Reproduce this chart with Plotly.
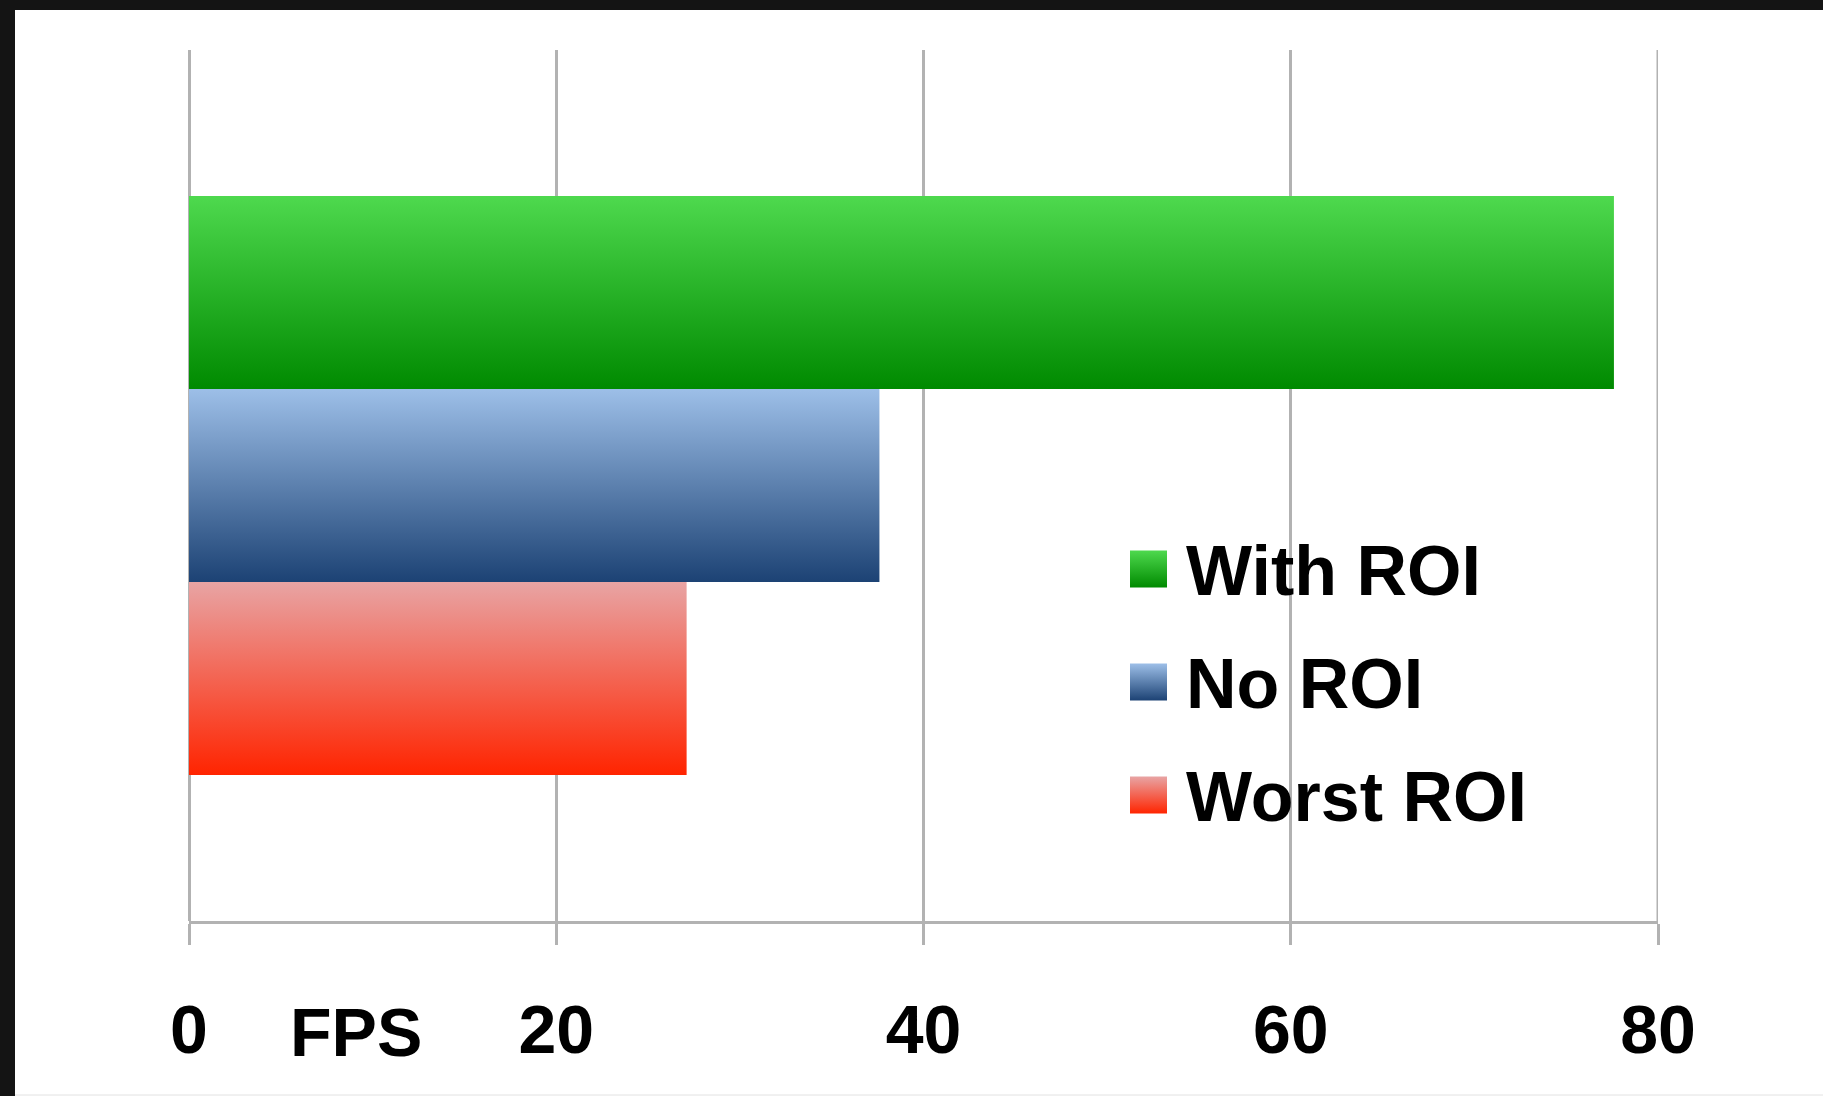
import plotly.graph_objects as go

# ---- data ----
series_names = ["With ROI", "No ROI", "Worst ROI"]
fps_values = [77.6, 37.6, 27.1]
tick_values = [0, 20, 40, 60, 80]
tick_labels = ["0", "20", "40", "60", "80"]
axis_label = "FPS"

# ---- styles ----
top_colors = ["rgb(78,217,78)", "rgb(157,191,232)", "rgb(232,164,164)"]
bottom_colors = ["rgb(0,138,0)", "rgb(28,66,116)", "rgb(255,36,0)"]
grid_color = "#b2b2b2"
FONT = "Liberation Sans"

W, H = 1823, 1096
L, R, T, B = 189, 1658, 50, 921  # plot-area pixel box


def pxx(p):
    return (p - L) / (R - L)


def pxy(p):
    return (B - p) / (B - T)


group_width = 0.665
bar_h = group_width / len(series_names)

fig = go.Figure()

for i, (name, v) in enumerate(zip(series_names, fps_values)):
    c = (len(series_names) - 1) / 2 * bar_h - i * bar_h
    y0, y1 = c - bar_h / 2, c + bar_h / 2
    fig.add_trace(go.Scatter(
        x=[0, v, v, 0, 0],
        y=[y0, y0, y1, y1, y0],
        mode="lines",
        line=dict(width=0),
        fill="toself",
        fillgradient=dict(type="vertical",
                          colorscale=[[0, bottom_colors[i]], [1, top_colors[i]]]),
        name=name,
        showlegend=False,
        hoverinfo="x+name",
    ))

# custom legend: markers on an overlay pixel-axis
leg_rows_y = [571, 684, 797]
leg_sq_x = 1148.5
fig.add_trace(go.Scatter(
    x=[leg_sq_x] * 3, y=[y - 2 for y in leg_rows_y],
    xaxis="x2", yaxis="y2",
    mode="markers",
    marker=dict(symbol="square", size=37, color=top_colors,
                gradient=dict(type="vertical", color=bottom_colors),
                line=dict(width=0)),
    showlegend=False, hoverinfo="skip",
))

annotations = []
for name, yy in zip(series_names, leg_rows_y):
    annotations.append(dict(
        x=pxx(1184), y=pxy(yy), xref="paper", yref="paper",
        text=name, showarrow=False, xanchor="left", yanchor="middle",
        font=dict(family=FONT, size=70, color="black", weight="bold"),
    ))

annotations.append(dict(
    x=9.1, y=pxy(1032), xref="x", yref="paper",
    text=axis_label, showarrow=False, xanchor="center", yanchor="middle",
    font=dict(family=FONT, size=68, color="black", weight="bold"),
))

shapes = [
    # gridline at the last tick (plotly skips gridlines on the range edge)
    dict(type="line", xref="x", yref="paper",
         x0=tick_values[-1], x1=tick_values[-1], y0=0, y1=1,
         line=dict(color=grid_color, width=3), layer="below"),
    # white legend backdrop hiding the 60 gridline
    dict(type="rect", xref="paper", yref="paper",
         x0=pxx(1120), x1=pxx(1545), y0=pxy(843), y1=pxy(507),
         fillcolor="white", line=dict(width=0), layer="between"),
    # dark frame (top and left)
    dict(type="rect", xref="paper", yref="paper",
         x0=pxx(0), x1=pxx(W), y0=pxy(0), y1=pxy(10),
         fillcolor="#141414", line=dict(width=0), layer="above"),
    dict(type="rect", xref="paper", yref="paper",
         x0=pxx(0), x1=pxx(15), y0=pxy(0), y1=pxy(H),
         fillcolor="#141414", line=dict(width=0), layer="above"),
    # faint bottom line
    dict(type="line", xref="paper", yref="paper",
         x0=pxx(15), x1=pxx(W), y0=pxy(1095), y1=pxy(1095),
         line=dict(color="#e2e2e2", width=1), layer="above"),
]

fig.update_layout(
    width=W, height=H,
    margin=dict(l=L, r=W - R, t=T, b=H - B, pad=0, autoexpand=False),
    paper_bgcolor="white", plot_bgcolor="white",
    showlegend=False,
    xaxis=dict(
        range=[0, 80], tickvals=tick_values, ticktext=tick_labels,
        showgrid=True, gridcolor=grid_color, gridwidth=3,
        zeroline=True, zerolinecolor=grid_color, zerolinewidth=3,
        showline=True, linecolor=grid_color, linewidth=3,
        ticks="outside", ticklen=21, tickwidth=3, tickcolor=grid_color,
        tickfont=dict(family=FONT, size=68, color="black", weight="bold"),
        ticklabelstandoff=26,
        automargin=False,
        fixedrange=True,
    ),
    yaxis=dict(range=[-0.5, 0.5], visible=False, fixedrange=True,
               automargin=False),
    xaxis2=dict(range=[L, R], domain=[0, 1], overlaying="x", visible=False,
                fixedrange=True),
    yaxis2=dict(range=[B, T], domain=[0, 1], overlaying="y", visible=False,
                fixedrange=True),
    annotations=annotations,
    shapes=shapes,
)

fig.write_html("out.html")
